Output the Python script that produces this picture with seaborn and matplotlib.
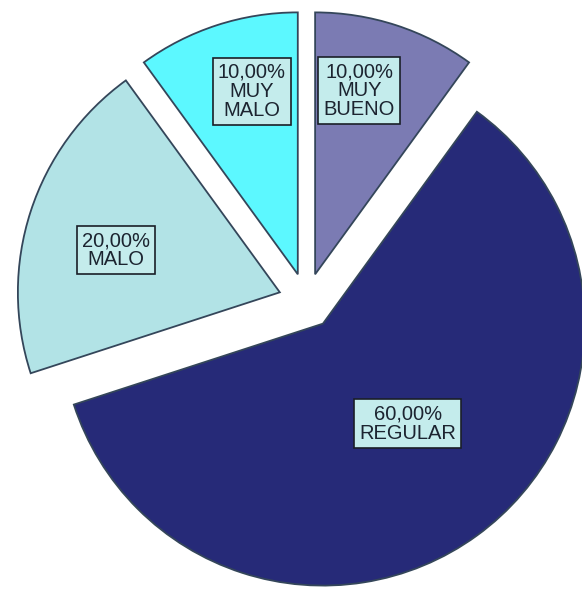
import matplotlib
matplotlib.use("Agg")
import matplotlib.pyplot as plt
import numpy as np
import seaborn as sns

# categories in drawing order (clockwise from 12 o'clock)
categories = ["MUY\nBUENO", "REGULAR", "MALO", "MUY\nMALO"]
percent = [10.0, 60.0, 20.0, 10.0]
colors = ["#7b7bb3", "#262a78", "#b2e3e6", "#5cf8ff"]

sns.set_style("white")
plt.rcParams["font.family"] = ["Liberation Sans", "DejaVu Sans"]

fig = plt.figure(figsize=(5.82, 5.92), dpi=100)
ax = fig.add_axes([0, 0, 1, 1])

wedges, _ = ax.pie(
    percent,
    colors=colors,
    startangle=90,
    counterclock=False,
    explode=[0.107] * len(percent),
    radius=1.0,
    wedgeprops=dict(edgecolor="#34465a", linewidth=1.3),
)

# label distance (fraction of radius) and angular nudge for each slice
label_dist = [0.72, 0.50, 0.645, 0.72]
label_shift = [4.5, 4.3, 3.6, -3.9]
for w, name, p, d, s in zip(wedges, categories, percent, label_dist, label_shift):
    ang = np.deg2rad((w.theta1 + w.theta2) / 2 + s)
    cx, cy = w.center
    txt = f"{p:.2f}%".replace(".", ",") + "\n" + name
    ax.text(cx + d * np.cos(ang), cy + d * np.sin(ang), txt,
            ha="center", va="center", fontsize=14.5, color="#1c2430",
            linespacing=1.0, multialignment="center",
            bbox=dict(boxstyle="square,pad=0.25", fc="#c4ecec", ec="#1a1f28", lw=1.2))

ax.set_xlim(-1.170, 1.052)
ax.set_ylim(-1.111, 1.149)
ax.set_aspect("equal")
ax.axis("off")

fig.savefig("out.png", dpi=100)
